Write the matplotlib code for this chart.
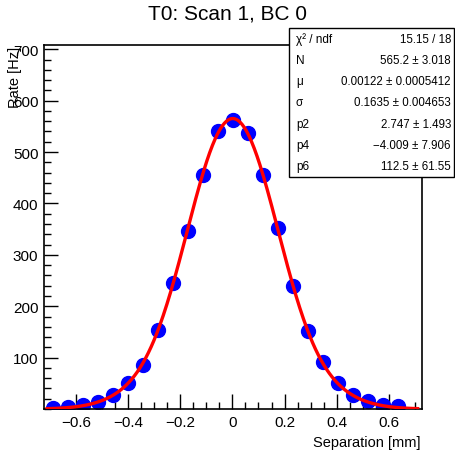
import numpy as np
import matplotlib
matplotlib.use("Agg")
import matplotlib.pyplot as plt
from matplotlib.patches import Rectangle
from matplotlib.ticker import MultipleLocator, FixedLocator

plt.rcParams["font.family"] = ["Liberation Sans", "DejaVu Sans"]

# data
separation = [-0.688, -0.631, -0.573, -0.516, -0.458, -0.401, -0.343, -0.286,
              -0.228, -0.171, -0.114, -0.056, 0.001, 0.059, 0.116, 0.174,
              0.231, 0.289, 0.346, 0.404, 0.461, 0.518, 0.576, 0.634]
rate = [2, 3, 8, 14, 28, 51, 86, 154, 245, 347, 455, 540,
        563, 538, 455, 352, 240, 152, 91, 51, 27, 15, 8, 5]

# fit parameters (stat box)
fit_N, fit_mu, fit_sigma = 565.2, 0.00122, 0.1635
fit_p2, fit_p4, fit_p6 = 2.747, -4.009, 112.5

stat_labels = ["\u03c7\u00b2 / ndf", "N", "\u03bc", "\u03c3", "p2", "p4", "p6"]
stat_values = ["15.15 / 18", "565.2 \u00b1 3.018", "0.00122 \u00b1 0.0005412",
               "0.1635 \u00b1 0.004653", "2.747 \u00b1 1.493",
               "\u22124.009 \u00b1 7.906", "112.5 \u00b1 61.55"]

fig = plt.figure(figsize=(4.56, 4.52), dpi=100)
ax = fig.add_axes([0.0965, 0.0929, 0.8285, 0.805])

xf = np.linspace(-0.71, 0.71, 400)
yf = fit_N * np.exp(-(xf - fit_mu) ** 2 / (2 * fit_sigma ** 2)) * \
    (1 + fit_p2 * xf ** 2 + fit_p4 * xf ** 4 + fit_p6 * xf ** 6)

ax.plot(separation, rate, "o", color="#0000ff", markersize=10, zorder=2)
ax.plot(xf, yf, color="#ff0000", lw=2.4, zorder=3)

ax.set_xlim(-0.722, 0.726)
ax.set_ylim(0, 708)

ax.xaxis.set_major_locator(MultipleLocator(0.2))
ax.xaxis.set_minor_locator(MultipleLocator(0.05))
ax.yaxis.set_major_locator(FixedLocator([100, 200, 300, 400, 500, 600, 700]))
ax.yaxis.set_minor_locator(MultipleLocator(20))
ax.set_xticks([-0.6, -0.4, -0.2, 0, 0.2, 0.4, 0.6])
ax.set_xticklabels(["\u22120.6", "\u22120.4", "\u22120.2", "0", "0.2", "0.4", "0.6"])

ax.tick_params(which="both", direction="in", labelsize=11, width=1)
ax.tick_params(which="major", length=10, pad=4)
ax.tick_params(which="minor", length=5)
ax.tick_params(axis="x", which="major", length=11)
for s in ax.spines.values():
    s.set_linewidth(1.2)

fig.text(0.5, 0.969, "T0: Scan 1, BC 0", ha="center", va="center", fontsize=15)
fig.text(15 / 456, 1 - 47 / 452, "Rate [Hz]", rotation=90, ha="center",
         va="top", fontsize=10.5)
fig.text(421 / 456, 1 - 443 / 452, "Separation [mm]", ha="right",
         va="center", fontsize=10.5)

# stat box
bx0, by0, bx1, by1 = 289, 29, 454, 178
fig.patches.append(Rectangle((bx0 / 456, 1 - by1 / 452), (bx1 - bx0) / 456,
                             (by1 - by0) / 452, transform=fig.transFigure,
                             facecolor="white", edgecolor="black", lw=1,
                             zorder=5))
row_h = (by1 - by0) / len(stat_labels)
for i, (lab, val) in enumerate(zip(stat_labels, stat_values)):
    yc = 1 - (by0 + row_h * (i + 0.5)) / 452
    fig.text(296 / 456, yc, lab, ha="left", va="center", fontsize=8.5, zorder=6)
    fig.text(451 / 456, yc, val, ha="right", va="center", fontsize=8.3, zorder=6)

fig.savefig("out.png", dpi=100)
